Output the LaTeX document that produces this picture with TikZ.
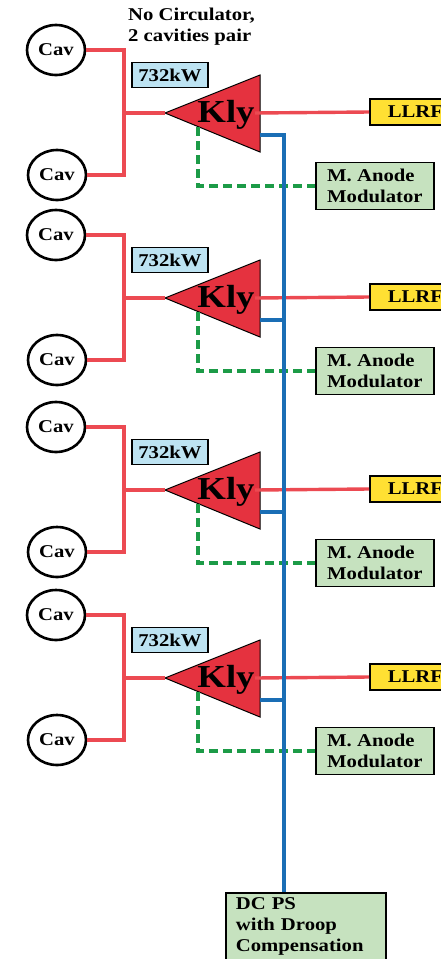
\documentclass[tikz,border=0pt]{standalone}
\usepackage{fontspec}
\setmainfont{Liberation Serif}[FakeStretch=1.15]
\usepackage{xcolor}
\usepackage{tikz}
\usetikzlibrary{positioning,calc,shapes.geometric}

\definecolor{rfred}{HTML}{EC4A52}
\definecolor{klyred}{HTML}{E5323F}
\definecolor{llrfyel}{HTML}{FFE033}
\definecolor{pwblue}{HTML}{BDE3F2}
\definecolor{anodegrn}{HTML}{C6E2BF}
\definecolor{dcblue}{HTML}{1A6EB5}
\definecolor{dashgrn}{HTML}{1C9B47}

\begin{document}
\begin{tikzpicture}[
				x=1pt,y=-1pt,
				line cap=butt,line join=miter,
				every node/.style={font=\fontsize{18}{21}\selectfont\bfseries},
				cav/.style={draw=black, line width=2.6pt, ellipse, minimum width=58pt, minimum height=50pt, inner sep=0pt},
				klyshape/.style={draw=black, line width=1pt, fill=klyred},
				klytext/.style={font=\fontsize{32}{36}\selectfont\bfseries, inner sep=0pt},
				pwbox/.style={draw=black, line width=1.8pt, fill=pwblue, minimum width=76pt, minimum height=25pt, inner sep=0pt},
				llrfbox/.style={draw=black, line width=1.8pt, fill=llrfyel, minimum width=91pt, minimum height=26pt, inner sep=0pt},
				anodebox/.style={draw=black, line width=1.8pt, fill=anodegrn, align=left, inner xsep=10pt, minimum width=118pt, minimum height=47pt},
				dcbox/.style={draw=black, line width=1.8pt, fill=anodegrn, align=left, text width=140pt, inner xsep=10pt, inner ysep=5pt},
				rfline/.style={draw=rfred, line width=3.4pt},
				anline/.style={draw=dashgrn, line width=3.2pt, dash pattern=on 9pt off 5pt},
				dcline/.style={draw=dcblue, line width=3.4pt}
				]
				\useasboundingbox (0,0) rectangle (440,959);
				
				% ---- note
				\node[anchor=north west, align=left, inner sep=0pt] (note) at (128,8) {No Circulator,\\2 cavities pair};
				
				% ---- klystron groups
				\foreach \i/\ky in {1/113, 2/298, 3/490, 4/678}{
					% cavities
					\node[cav] (cavA\i) at (56,{\ky-63}) {Cav};
					\node[cav] (cavB\i) at (57,{\ky+62}) {Cav};
					\coordinate (split\i) at (124,\ky);
					\coordinate (tip\i) at (165,\ky);
					
					% klystron
					\draw[klyshape] (tip\i) -- (260,{\ky-38}) -- (260,{\ky+39}) -- cycle;
					\node[klytext] (kly\i) at (226,{\ky+2}) {Kly};
					\node[pwbox] (pw\i) at (170,{\ky-38}) {732kW};
					
					% boxes
					\node[llrfbox, anchor=west] (llrf\i) at (369,{\ky-1}) {LLRF};
					\node[anodebox, anchor=west] (mam\i) at (315,{\ky+73}) {M. Anode\\Modulator};
					
					% rf
					\coordinate (out\i) at (255,\ky);
					\draw[rfline] (cavA\i.east) -| (split\i) |- (cavB\i.east);
					\draw[rfline] (split\i) -- (tip\i);
					\draw[rfline] (out\i) -- (llrf\i.west);
					
					% anode
					\coordinate (ma\i) at (198,{\ky+14});
					\draw[anline] (ma\i) |- (mam\i.west);
					
					\coordinate (dc\i) at (260,{\ky+22});
				}
				
				% ---- DC power supply
				\node[dcbox, anchor=north west] (dcps) at (225,892) {DC PS\\with Droop\\Compensation};
				\coordinate (busTop) at (284,{113+22});
				\draw[dcline] (dc1) -- (busTop) -- (busTop |- dcps.north);
				\foreach \i in {2,3,4}{
					\draw[dcline] (dc\i) -- (busTop |- dc\i);
				}
			\end{tikzpicture}
\end{document}
